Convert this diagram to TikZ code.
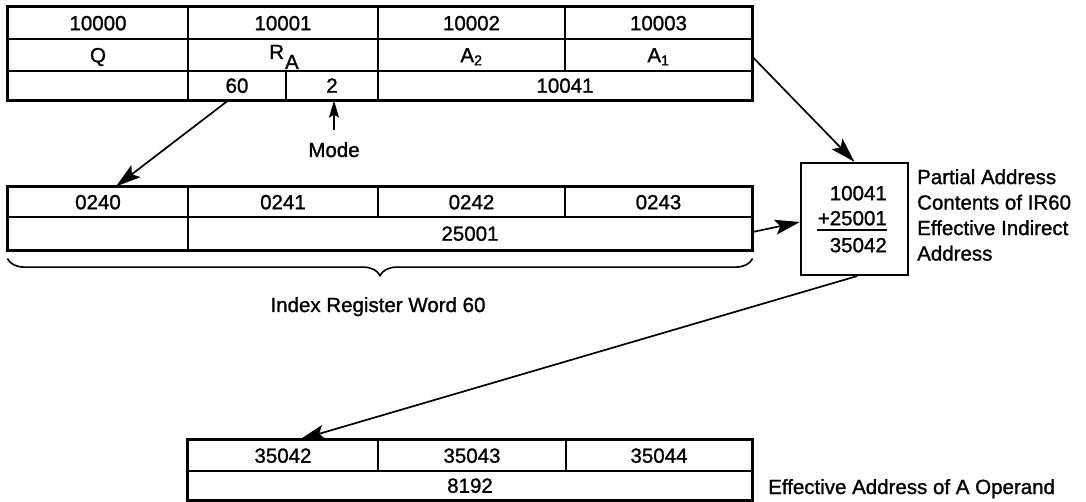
\documentclass[tikz,border=0pt]{standalone}
\usepackage{fontspec}
\setmainfont{Liberation Sans}[FakeBold=1.2]
\usetikzlibrary{arrows.meta,decorations.pathreplacing,calc}
\begin{document}
\begin{tikzpicture}[x=1pt,y=-1pt,
  font=\fontsize{20.5}{24}\selectfont,
  cell/.style={draw, line width=1.2pt, inner sep=0pt, text height=14.5pt, text depth=0pt},
  frame/.style={draw, line width=2.2pt},
  arr/.style={line width=1.7pt, -{Stealth[length=25pt,width=15pt,inset=5pt]}},
  smallarr/.style={line width=1.6pt, -{Stealth[length=17pt,width=10pt,inset=3pt]}},
  lbl/.style={inner sep=0pt}]
\useasboundingbox (0,0) rectangle (1086,502);

% ---- top table (instruction) ----
\node[cell, minimum width=180, minimum height=32] (t11) at (98,23) {10000};
\node[cell, minimum width=190, minimum height=32] (t12) at (283,23) {10001};
\node[cell, minimum width=187, minimum height=32] (t13) at (471.5,23) {10002};
\node[cell, minimum width=187, minimum height=32] (t14) at (658.5,23) {10003};
\node[cell, minimum width=180, minimum height=32] (t21) at (98,55) {Q};
\node[cell, minimum width=190, minimum height=32] (t22) at (283,55) {};
\node[lbl, anchor=base] (ra) at (284,59) {R\kern1pt\raisebox{-10pt}{A}};
\node[cell, minimum width=187, minimum height=32] (t23) at (471.5,55) {A\textsubscript{2}};
\node[cell, minimum width=187, minimum height=32] (t24) at (658.5,55) {A\textsubscript{1}};
\node[cell, minimum width=180, minimum height=29] (t31) at (98,85.5) {};
\node[cell, minimum width=98, minimum height=29] (c60) at (237,85.5) {60};
\node[cell, minimum width=92, minimum height=29] (c2) at (332,85.5) {2};
\node[cell, minimum width=374, minimum height=29] (t34) at (565,85.5) {10041};
\draw[frame] (t11.north west) rectangle (t34.south east);

% ---- mode label ----
\node[lbl, anchor=base] (mode) at (334,157) {Mode};

% ---- index register word ----
\node[cell, minimum width=180, minimum height=30] (i40) at (98,202) {0240};
\node[cell, minimum width=190, minimum height=30] (i41) at (283,202) {0241};
\node[cell, minimum width=187, minimum height=30] (i42) at (471.5,202) {0242};
\node[cell, minimum width=187, minimum height=30] (i43) at (658.5,202) {0243};
\node[cell, minimum width=180, minimum height=33] (i21) at (98,233.5) {};
\node[cell, minimum width=564, minimum height=33] (r25) at (470,233.5) {25001};
\draw[frame] (i40.north west) rectangle (r25.south east);

\draw[line width=1.6pt, decorate, decoration={brace, amplitude=17pt, mirror}]
  ($(i21.south west)+(0,8)$) -- ($(r25.south east)+(0,8)$);
\node[lbl, anchor=base] (irw) at (378,312) {Index Register Word 60};

% ---- sum box ----
\node[frame, minimum width=107, minimum height=112, inner sep=0pt] (sum) at (854.5,219) {};
\node[lbl, anchor=east, text height=14.5pt, text depth=0pt] (n1) at (887,193) {10041};
\node[lbl, anchor=east, text height=14.5pt, text depth=0pt] (n2) at (887,218) {+25001};
\node[lbl, anchor=east, text height=14.5pt, text depth=0pt] (n3) at (887,245) {35042};
\draw[line width=1.5pt] (817,230) -- (887,230);
\node[lbl, anchor=west, align=left, font=\fontsize{20.5}{25.5}\selectfont] (plab) at (917,215)
  {Partial Address\\Contents of IR60\\Effective Indirect\\Address};

% ---- effective address word ----
\node[cell, minimum width=190, minimum height=31] (b1) at (283,455.5) {35042};
\node[cell, minimum width=188, minimum height=31] (b2) at (472,455.5) {35043};
\node[cell, minimum width=186, minimum height=31] (b3) at (659,455.5) {35044};
\node[cell, minimum width=564, minimum height=29] (b4) at (470,485.5) {8192};
\draw[frame] (b1.north west) rectangle (b4.south east);
\node[lbl, anchor=base west] (eff) at (768,494) {Effective Address of A Operand};

% ---- connectors ----
\coordinate (s60) at ($(c60.south)+(-9,0)$);
\coordinate (e40) at ($(i40.north)+(18,0)$);
\draw[arr] (s60) -- (e40);
\draw[smallarr] ($(mode.north)+(0,-12)$) -- (mode.north |- c2.south);
\draw[arr] ($(t24.east)+(0,2)$) -- (sum.north);
\draw[arr] ($(r25.east)+(0,-1.5)$) -- ($(sum.west)+(0,3)$);
\draw[arr] ($(sum.south)+(2.5,0)$) -- ($(b1.north)+(17,0)$);
\end{tikzpicture}
\end{document}
